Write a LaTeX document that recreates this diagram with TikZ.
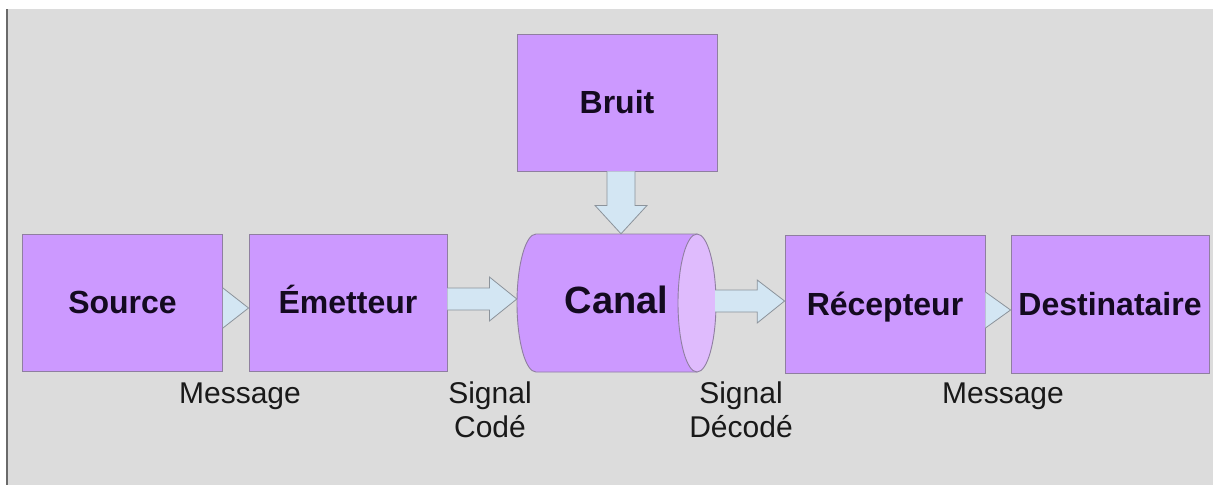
\documentclass[tikz,border=0pt]{standalone}
\usepackage{fontspec}
\setmainfont{Liberation Sans}
\usetikzlibrary{calc}
\definecolor{bgc}{HTML}{DCDCDC}
\definecolor{edgec}{HTML}{6A6A6A}
\definecolor{boxfill}{HTML}{CC99FF}
\definecolor{boxline}{HTML}{8F7FA0}
\definecolor{facefill}{HTML}{DFBBFD}
\definecolor{arrfill}{HTML}{D3E6F3}
\definecolor{arrline}{HTML}{8C939B}
\definecolor{txt}{HTML}{140A20}
\begin{document}
\begin{tikzpicture}[x=1pt,y=-1pt,
  box/.style={draw=boxline, line width=0.9pt, fill=boxfill, minimum width=200pt,
    minimum height=137pt, inner sep=0pt, text=txt,
    font=\fontsize{32}{36}\bfseries\selectfont, text height=22pt, text depth=0pt},
  barrow/.style={draw=arrline, line width=0.8pt, fill=arrfill, line join=miter},
  lab/.style={font=\fontsize{30}{34}\selectfont, text=black!90, align=center, anchor=base}]
% background
\useasboundingbox (0,0) rectangle (1213,485);
\fill[white] (0,0) rectangle (1213,485);
\fill[bgc] (6,9) rectangle (1213,485);
\draw[edgec, line width=2pt] (7,9) -- (7,485);
% cylinder (canal)
\path[fill=boxfill, draw=boxline, line width=0.9pt]
  (536,234) -- (697,234) -- (697,372) -- (536,372)
  .. controls (525.5,372) and (517,341.1) .. (517,303)
  .. controls (517,264.9) and (525.5,234) .. (536,234) -- cycle;
\path[fill=facefill, draw=boxline, line width=0.9pt]
  (697,234) .. controls (707.5,234) and (716,264.9) .. (716,303)
  .. controls (716,341.1) and (707.5,372) .. (697,372)
  .. controls (686.5,372) and (678,341.1) .. (678,303)
  .. controls (678,264.9) and (686.5,234) .. (697,234) -- cycle;
% nodes
\node[box] (source) at (122.5,302.5) {Source};
\node[box, minimum width=198pt] (emetteur) at (348,302.5) {Émetteur};
\node[box] (bruit) at (617,102.5) {Bruit};
\node[minimum width=199pt, minimum height=138pt, inner sep=0pt, text=txt,
  font=\fontsize{38}{44}\bfseries\selectfont, text height=27pt, text depth=7pt]
  (canal) at (616.5,303) {Canal};
\node[box, minimum height=138pt] (recepteur) at (885,304) {Récepteur};
\node[box, minimum width=198pt, minimum height=138pt] (destinataire) at (1110,304) {Destinataire};
% block arrows
\draw[barrow] ($(emetteur.east)+(0,-14.5)$) -- ($(emetteur.east)+(42,-14.5)$)
  -- ($(emetteur.east)+(42,-25.5)$) -- ($(canal.west)+(0,-4)$)
  -- ($(emetteur.east)+(42,18.5)$) -- ($(emetteur.east)+(42,7.5)$)
  -- ($(emetteur.east)+(0,7.5)$);
\draw[barrow] ($(canal.east)+(-1,-13)$) -- ($(canal.east)+(41,-13)$)
  -- ($(canal.east)+(41,-23)$) -- ($(recepteur.west)+(0,-3)$)
  -- ($(canal.east)+(41,20)$) -- ($(canal.east)+(41,9)$)
  -- ($(canal.east)+(-1,9)$);
\draw[barrow] ($(bruit.south)+(-10,0)$) -- ($(bruit.south)+(-10,34)$)
  -- ($(bruit.south)+(-22,34)$) -- ($(canal.north)+(4.5,0)$)
  -- ($(bruit.south)+(30,34)$) -- ($(bruit.south)+(18,34)$)
  -- ($(bruit.south)+(18,0)$);
\draw[barrow] ($(source.east)+(0,-14.5)$) -- ($(emetteur.west)+(0,5.5)$)
  -- ($(source.east)+(0,25.5)$);
\draw[barrow] ($(recepteur.east)+(0,-12)$) -- ($(destinataire.west)+(0,6)$)
  -- ($(recepteur.east)+(0,24)$);
% labels
\node[lab] (l1) at (240,403) {Message};
\node[lab] (l2) at (490,437) {Signal\\Codé};
\node[lab] (l3) at (741,437) {Signal\\Décodé};
\node[lab] (l4) at (1003,403) {Message};
\end{tikzpicture}
\end{document}
